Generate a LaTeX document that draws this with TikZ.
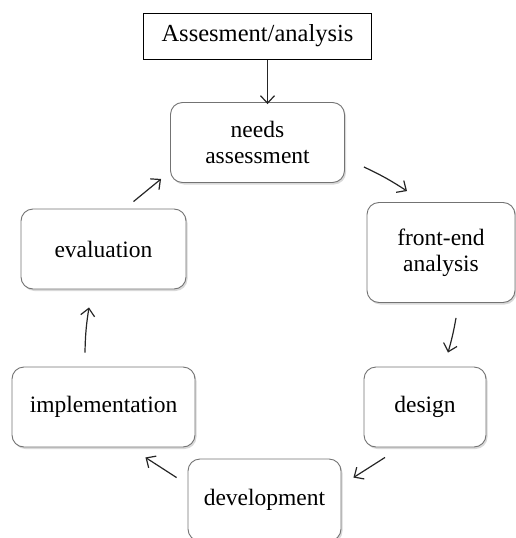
\documentclass[tikz,border=0pt]{standalone}
\usepackage{fontspec}
\setmainfont{Liberation Serif}
\usetikzlibrary{arrows.meta,shadows}
\tikzset{
  stage/.style={draw=black!55, line width=0.9pt, rounded corners=12pt, fill=white,
    align=center, inner sep=0pt,
    drop shadow={shadow xshift=1.5pt, shadow yshift=-2pt, opacity=0.3},
    font=\fontsize{23.5}{26}\selectfont},
  headbox/.style={draw, line width=1pt, fill=white, inner sep=0pt,
    minimum width=228, minimum height=46, font=\fontsize{24.5}{28}\selectfont},
  cyc/.style={-{Straight Barb[length=7.5pt,width=14pt]}, line width=1.2pt, black!85},
}
\begin{document}
\begin{tikzpicture}[x=1pt, y=-1pt]
			%%%%% START %%%%%
			\useasboundingbox (0, 0) rectangle (516, 538);
			
			\node[headbox] (title) at (257.5, 36) {Assesment/analysis};
			
			\node[stage, minimum width=174, minimum height=80] (needs) at (257.5, 142.5) {needs\\assessment};
			\node[stage, minimum width=148, minimum height=100] (front) at (441, 252.5) {front-end\\analysis};
			\node[stage, minimum width=122, minimum height=80] (design) at (425, 407) {design};
			\node[stage, minimum width=153, minimum height=82] (devel) at (264.5, 500) {development};
			\node[stage, minimum width=183, minimum height=80] (impl) at (103.5, 407) {implementation};
			\node[stage, minimum width=165, minimum height=80] (eval) at (103.5, 249) {evaluation};
			
			\draw[cyc] ([shift={(10, 0)}]title.south) -- ([shift={(10, 2)}]needs.north);
			
			\draw[cyc] ([shift={(19, 24.5)}]needs.east) to[bend left=4] ([shift={(-34, -11)}]front.north);
			\draw[cyc] ([shift={(15, 15)}]front.south) to[bend left=3] ([shift={(23, -14)}]design.north);
			\draw[cyc] ([shift={(-40, 10)}]design.south) -- ([shift={(12, 19)}]devel.north east);
			\draw[cyc] ([shift={(-11, 19)}]devel.north west) -- ([shift={(-50, 10)}]impl.south east);
			\draw[cyc] ([shift={(-18.5, -14)}]impl.north) to[bend left=4] ([shift={(-14.5, 18)}]eval.south);
			\draw[cyc] ([shift={(30, -7)}]eval.north) -- ([shift={(-9, -4)}]needs.south west);
			
			%%%%% END %%%%%
\end{tikzpicture}
\end{document}
